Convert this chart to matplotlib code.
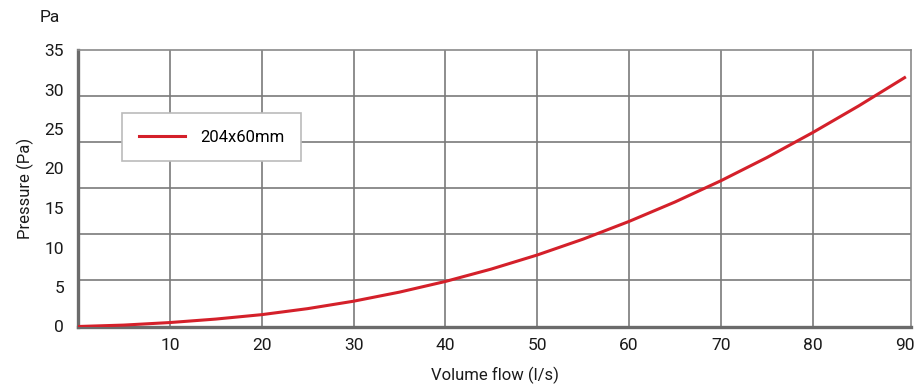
import numpy as np
import matplotlib
matplotlib.use("Agg")
import matplotlib.pyplot as plt

# Data
flow = [0, 5, 10, 15, 20, 25, 30, 35, 40, 45, 50, 55, 60, 65, 70, 75, 80, 85, 90]
pressure = [0, 0.18, 0.5, 0.94, 1.5, 2.26, 3.2, 4.35, 5.7, 7.27, 9.05, 11.06, 13.3,
            15.76, 18.45, 21.38, 24.55, 27.92, 31.5]
series_name = "204x60mm"
x_ticks = [10, 20, 30, 40, 50, 60, 70, 80, 90]
y_ticks = [0, 5, 10, 15, 20, 25, 30, 35]

plt.rcParams['font.family'] = ['Roboto', 'DejaVu Sans']

W, H = 924, 387
fig = plt.figure(figsize=(W / 100, H / 100), dpi=100)
left, right, top, bottom = 78, 911, 50, 326.5
ax = fig.add_axes([left / W, 1 - bottom / H, (right - left) / W, (bottom - top) / H])

ax.plot(flow, pressure, color="#d4202a", lw=2.2, label=series_name, zorder=3,
        solid_joinstyle="round")

ax.set_xlim(0, 90.7)
ax.set_ylim(0, 35)

ax.xaxis.remove_overlapping_locs = False
ax.set_xticks(x_ticks)
ax.set_yticks(y_ticks)
ax.set_xticks(x_ticks[:-1], minor=True)
ax.set_yticks([35 * k / 6 for k in range(1, 6)], minor=True)
ax.tick_params(which="both", length=0)
ax.tick_params(axis="x", labelsize=12.5, pad=8, colors="#1a1a1a")
ax.tick_params(axis="y", labelsize=12.5, pad=10, colors="#1a1a1a")
ax.grid(False, which="major")
ax.grid(True, which="minor", color="#7a7a7a", lw=1.2)

for s in ["left", "bottom"]:
    ax.spines[s].set_color("#6b6b6b")
    ax.spines[s].set_linewidth(2.4)
for s in ["top", "right"]:
    ax.spines[s].set_color("#8a8a8a")
    ax.spines[s].set_linewidth(1.2)

ax.set_xlabel("Volume flow (l/s)", fontsize=12, color="#1a1a1a", labelpad=10)
ax.set_ylabel("Pressure (Pa)", fontsize=12, color="#1a1a1a", labelpad=8)

fig.text(50 / W, 1 - 18 / H, "Pa", fontsize=12.5, ha="center", va="center", color="#1a1a1a")

leg = ax.legend(loc="upper left", bbox_to_anchor=(0.0528, 0.772), borderaxespad=0,
                fontsize=12, frameon=True, fancybox=False, edgecolor="#bbbbbb",
                framealpha=1, borderpad=1.0, handlelength=2.8, handletextpad=0.9)
leg.get_frame().set_linewidth(1.2)
leg.set_zorder(5)

fig.savefig("out.png", dpi=100)
